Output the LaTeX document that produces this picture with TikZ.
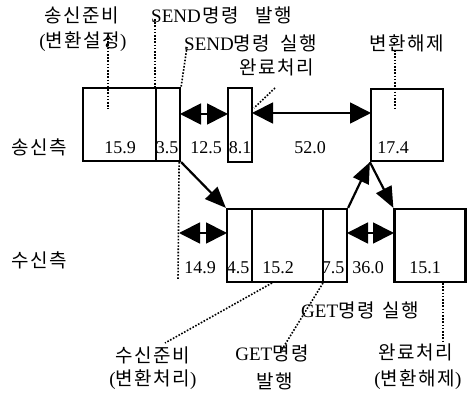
\documentclass[tikz,border=0pt]{standalone}
\usepackage{fontspec}
\setmainfont{Liberation Serif}
\newfontfamily\kr[LetterSpace=8]{Noto Sans CJK KR}
\usetikzlibrary{arrows.meta,calc}
\newcommand\K[1]{{\kr\fontsize{19}{22}\selectfont #1}}
\begin{document}
\begin{tikzpicture}[x=1pt,y=-1pt,
 box/.style={draw,line width=2.2pt,inner sep=0pt},
 txt/.style={font=\fontsize{19}{22}\selectfont,inner sep=0pt},
 num/.style={font=\fontsize{18}{20}\selectfont,inner sep=0pt},
 leader/.style={line width=1.6pt,dash pattern=on 1.6pt off 1.6pt},
 dbl/.style={line width=1.8pt,{Triangle[length=21pt,width=21pt]}-{Triangle[length=21pt,width=21pt]}},
 flow/.style={line width=2.2pt,-{Triangle[length=21pt,width=17pt]}},
]
\useasboundingbox (0,0) rectangle (467,395);

% boxes
\node[box,minimum width=97pt,minimum height=73pt] (A) at (131.5,124.5) {};
\node[box,minimum width=24pt,minimum height=74pt] (B) at (240,125) {};
\node[box,minimum width=72pt,minimum height=72pt] (C) at (407,125) {};
\node[box,minimum width=120pt,minimum height=73pt] (D) at (287,245.5) {};
\node[box,minimum width=71pt,minimum height=73pt] (E) at (430,245.5) {};
\draw[line width=2.2pt] (156,88) -- (156,161);
\draw[line width=2.2pt] (252,209) -- (252,282);
\draw[line width=2.2pt] (323,209) -- (323,282);

% side labels
\node[txt] (tx) at (39,147) {\K{송신측}};
\node[txt] (rx) at (39,260) {\K{수신측}};

% top labels
\node[txt] (l1) at (82,15) {\K{송신준비}};
\node[txt] (l1b) at (83,42) {(\K{변환설정})};
\node[txt,anchor=west] (l2) at (151,15) {SEND\hspace{2pt}\K{명령\hspace{16pt}발행}};
\node[txt,anchor=west] (l3) at (184,43) {SEND\K{명령\hspace{10pt}실행}};
\node[txt] (l4) at (407,43) {\K{변환해제}};
\node[txt] (l5) at (277,67) {\K{완료처리}};

% bottom labels
\node[txt,anchor=west] (l6) at (301,310) {GET\K{명령\hspace{8pt}실행}};
\node[txt] (l7) at (153,355) {\K{수신준비}};
\node[txt] (l7b) at (153,380) {(\K{변환처리})};
\node[txt] (l8) at (272,353) {GET\K{명령}};
\node[txt] (l8b) at (275,381) {\K{발행}};
\node[txt] (l9) at (416,352) {\K{완료처리}};
\node[txt] (l9b) at (418,380) {(\K{변환해제})};

% numbers
\node[num] (n1) at (120,148) {15.9};
\node[num] (n2) at (167,148) {3.5};
\node[num] (n3) at (206,148) {12.5};
\node[num] (n4) at (240,148) {8.1};
\node[num] (n5) at (310,148) {52.0};
\node[num] (n6) at (393,148) {17.4};
\node[num] (m1) at (200,268) {14.9};
\node[num] (m2) at (238,268) {4.5};
\node[num] (m3) at (278,268) {15.2};
\node[num] (m4) at (333,268) {7.5};
\node[num] (m5) at (368,268) {36.0};
\node[num] (m6) at (425,268) {15.1};

% leader coordinates
\coordinate (a1) at (108,38);
\coordinate (a2) at (108,109);
\coordinate (b1) at (155,19);
\coordinate (c1) at (187,47);
\coordinate (d1) at (275,88);
\coordinate (d2) at (254,108);
\coordinate (e1) at (395,50);
\coordinate (e2) at (395,110);
\coordinate (f2) at (178,280);
\coordinate (g1) at (272,283);
\coordinate (g2) at (165,343);
\coordinate (h1) at (323,283);
\coordinate (h2) at (281,351);
\coordinate (k1) at (443,283);
\coordinate (k2) at (443,342);

\draw[leader] (a1) -- (a2);
\draw[leader] (b1) -- (b1 |- A.north);
\draw[leader] (c1) -- (A.north east);
\draw[leader] (d1) -- (d2);
\draw[leader] (e1) -- (e2);
\draw[leader] (A.south east) ++(-2,0) -- (f2);
\draw[leader] (g1) -- (g2);
\draw[leader] (h1) -- (h2);
\draw[leader] (k1) -- (k2);

% double arrows
\coordinate (t1) at (180,114);
\coordinate (t2) at (228,114);
\coordinate (t3) at (252,113);
\coordinate (t4) at (371,113);
\coordinate (u1) at (179,233);
\coordinate (u2) at (227,233);
\coordinate (u3) at (347,233);
\coordinate (u4) at (394,233);
\draw[dbl] (t1) -- (t2);
\draw[dbl] (t3) -- (t4);
\draw[dbl] (u1) -- (u2);
\draw[dbl] (u3) -- (u4);

% flow arrows
\draw[flow] (A.south east) -- (D.north west);
\draw[flow] (D.north east) -- (C.south west);
\draw[flow] (C.south west) -- (E.north west);
\end{tikzpicture}
\end{document}
